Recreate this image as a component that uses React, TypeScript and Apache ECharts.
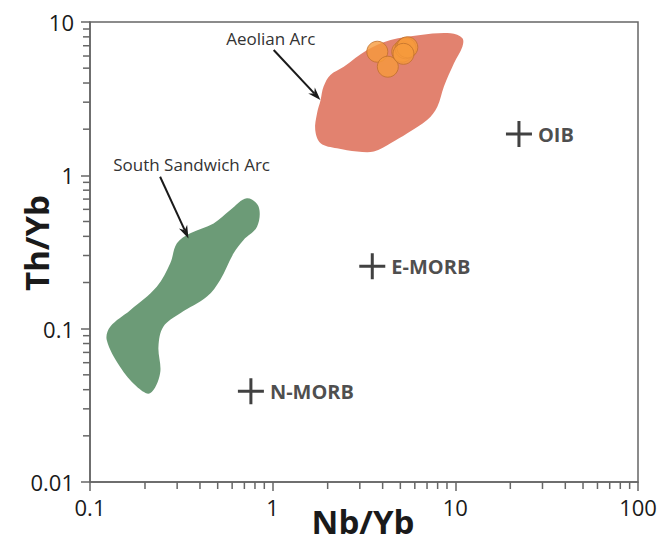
import React, { useEffect, useRef } from 'react';
import * as echarts from 'echarts';

// ---- axes ----
const xRange = [0.1, 100];
const yRange = [0.01, 10];
const xTickLabels = ['0.1', '1', '10', '100'];
const yTickLabels = ['0.01', '0.1', '1', '10'];
const xMinorTicks = [0.2, 0.3, 0.4, 0.5, 0.6, 0.7, 0.8, 0.9, 2, 3, 4, 5, 6, 7, 8, 9, 20, 30, 40, 50, 60, 70, 80, 90];
const yMinorTicks = [0.02, 0.03, 0.04, 0.05, 0.06, 0.07, 0.08, 0.09, 0.2, 0.3, 0.4, 0.5, 0.6, 0.7, 0.8, 0.9, 2, 3, 4, 5, 6, 7, 8, 9];

// ---- fields (Nb/Yb, Th/Yb) ----
const aeolianField: [number, number][] = [
  [2.07, 4.51], [2.45, 5.11], [3.29, 6.57], [4.42, 7.63], [6.45, 8.23], [9.42, 8.44],
  [10.93, 7.83], [10.93, 6.9], [9.83, 5.38], [8.66, 3.79], [7.97, 2.8], [7.03, 2.3],
  [5.46, 1.88], [4.42, 1.62], [3.58, 1.43], [2.9, 1.43], [2.25, 1.5], [1.83, 1.62],
  [1.71, 1.975], [1.75, 2.54], [1.83, 3.1], [1.9, 3.79],
];
const southSandwichField: [number, number][] = [
  [0.723, 0.708], [0.838, 0.624], [0.821, 0.462], [0.693, 0.379], [0.611, 0.31],
  [0.516, 0.208], [0.437, 0.162], [0.312, 0.126], [0.252, 0.103], [0.237, 0.0763],
  [0.242, 0.0512], [0.213, 0.0379], [0.18, 0.0419], [0.146, 0.0565], [0.1235, 0.0844],
  [0.129, 0.103], [0.166, 0.132], [0.232, 0.188], [0.275, 0.267], [0.299, 0.36],
  [0.354, 0.419], [0.475, 0.486], [0.586, 0.594],
];

// ---- Aeolian samples ----
const sampleNb = [3.74, 4.27, 5.12, 5.34, 5.46, 5.2];
const sampleTh = [6.4, 5.11, 6.4, 6.74, 6.84, 6.2];

// ---- reference compositions ----
const refNames = ['OIB', 'E-MORB', 'N-MORB'];
const refNb = [22.3, 3.51, 0.76];
const refTh = [1.86, 0.255, 0.039];

// ---- annotations ----
const annotationNames = ['Aeolian Arc', 'South Sandwich Arc'];
const annotationAnchor: [number, number][] = [[0.977, 7.86], [0.36, 1.168]];
const arrowFrom: [number, number][] = [[1.013, 6.57], [0.242, 0.979]];
const arrowTo: [number, number][] = [[1.825, 3.1], [0.346, 0.388]];

const FONT = '"Open Sans", "Noto Sans", sans-serif';

function fieldSeries(points: [number, number][], color: string) {
  return {
    type: 'custom',
    coordinateSystem: 'cartesian2d',
    silent: true,
    clip: false,
    z: 1,
    data: points,
    renderItem: (params: any, api: any) => {
      if (params.dataIndex !== 0) return null;
      return {
        type: 'polygon',
        shape: { points: points.map((p) => api.coord(p)), smooth: 0.35 },
        style: { fill: color, stroke: 'none' },
      };
    },
  };
}

export default function App() {
  const ref = useRef<HTMLDivElement>(null);
  useEffect(() => {
    document.body.style.margin = '0';
    if (!ref.current) return;
    const chart = echarts.init(ref.current, undefined, { renderer: 'svg' });
    const axisLine = { show: true, lineStyle: { color: '#666', width: 1.5 } };
    chart.setOption({
      animation: false,
      backgroundColor: '#ffffff',
      grid: { left: 90, right: 34, top: 22, bottom: 61, show: true, borderColor: '#666', borderWidth: 1.5, backgroundColor: 'transparent' },
      xAxis: {
        type: 'log', logBase: 10, min: xRange[0], max: xRange[1],
        axisLine, splitLine: { show: false },
        axisTick: { show: true, inside: false, length: 9, lineStyle: { color: '#666', width: 1.5 } },
        axisLabel: { margin: 14, fontSize: 22, fontFamily: FONT, color: '#1a1a1a', formatter: (_v: number, i: number) => xTickLabels[i] },
      },
      yAxis: {
        type: 'log', logBase: 10, min: yRange[0], max: yRange[1],
        axisLine, splitLine: { show: false },
        axisTick: { show: true, inside: false, length: 9, lineStyle: { color: '#666', width: 1.5 } },
        axisLabel: { margin: 16, fontSize: 22, fontFamily: FONT, color: '#1a1a1a', formatter: (_v: number, i: number) => yTickLabels[i] },
      },
      graphic: [
        { type: 'text', x: 36, y: 243, rotation: Math.PI / 2, style: { text: 'Th/Yb', font: `bold 33px ${FONT}`, fill: '#1a1a1a', align: 'center', verticalAlign: 'middle', textAlign: 'center', textVerticalAlign: 'middle' } },
        { type: 'text', x: 363, y: 521, style: { text: 'Nb/Yb', font: `bold 33px ${FONT}`, fill: '#1a1a1a', align: 'center', verticalAlign: 'middle', textAlign: 'center', textVerticalAlign: 'middle' } },
      ],
      series: [
        fieldSeries(aeolianField, '#e2826f'),
        fieldSeries(southSandwichField, '#6c9b77'),
        {
          type: 'custom', coordinateSystem: 'cartesian2d', silent: true, clip: false, z: 5,
          data: xMinorTicks.map((v) => [v, yRange[0]]),
          renderItem: (_p: any, api: any) => {
            const c = api.coord([api.value(0), api.value(1)]);
            return { type: 'line', shape: { x1: c[0], y1: c[1], x2: c[0], y2: c[1] + 7 }, style: { stroke: '#666', lineWidth: 1.5 } };
          },
        },
        {
          type: 'custom', coordinateSystem: 'cartesian2d', silent: true, clip: false, z: 5,
          data: yMinorTicks.map((v) => [xRange[0], v]),
          renderItem: (_p: any, api: any) => {
            const c = api.coord([api.value(0), api.value(1)]);
            return { type: 'line', shape: { x1: c[0] - 7, y1: c[1], x2: c[0], y2: c[1] }, style: { stroke: '#666', lineWidth: 1.5 } };
          },
        },
        {
          type: 'scatter', z: 3, symbol: 'circle', symbolSize: 21,
          itemStyle: { color: '#f69a3c', borderColor: '#c0702c', borderWidth: 1 },
          data: sampleNb.map((x, i) => [x, sampleTh[i]]),
        },
        {
          type: 'scatter', z: 4, symbol: 'path://M0,11.5H26V14.5H0Z M11.5,0H14.5V26H11.5Z', symbolSize: 26,
          itemStyle: { color: '#111' },
          label: { show: true, position: 'right', distance: 6, formatter: '{b}', fontSize: 20, fontWeight: 'bold', fontFamily: FONT, color: '#1e1e1e' },
          data: refNames.map((n, i) => ({ name: n, value: [refNb[i], refTh[i]] })),
        },
        {
          type: 'custom', coordinateSystem: 'cartesian2d', silent: true, clip: false, z: 6,
          data: annotationNames.map((_n, i) => [annotationAnchor[i][0], annotationAnchor[i][1]]),
          renderItem: (params: any, api: any) => {
            const i = params.dataIndex;
            const t = api.coord(annotationAnchor[i]);
            const s = api.coord(arrowFrom[i]);
            const e = api.coord(arrowTo[i]);
            const dx = e[0] - s[0], dy = e[1] - s[1];
            const len = Math.sqrt(dx * dx + dy * dy);
            const ux = dx / len, uy = dy / len;
            const nx = -uy, ny = ux;
            const hl = 13, hw = 4.5;
            return {
              type: 'group',
              children: [
                { type: 'text', x: t[0], y: t[1], style: { text: annotationNames[i], font: `17px ${FONT}`, fill: '#333', align: 'center', verticalAlign: 'middle', textAlign: 'center', textVerticalAlign: 'middle' } },
                { type: 'line', shape: { x1: s[0], y1: s[1], x2: e[0] - ux * 9, y2: e[1] - uy * 9 }, style: { stroke: '#1a1a1a', lineWidth: 2 } },
                {
                  type: 'polygon',
                  shape: { points: [
                    [e[0], e[1]],
                    [e[0] - ux * hl + nx * hw, e[1] - uy * hl + ny * hw],
                    [e[0] - ux * 9, e[1] - uy * 9],
                    [e[0] - ux * hl - nx * hw, e[1] - uy * hl - ny * hw],
                  ] },
                  style: { fill: '#1a1a1a' },
                },
              ],
            };
          },
        },
      ],
    });
    return () => chart.dispose();
  }, []);
  return <div ref={ref} style={{ width: 672, height: 543 }} />;
}
